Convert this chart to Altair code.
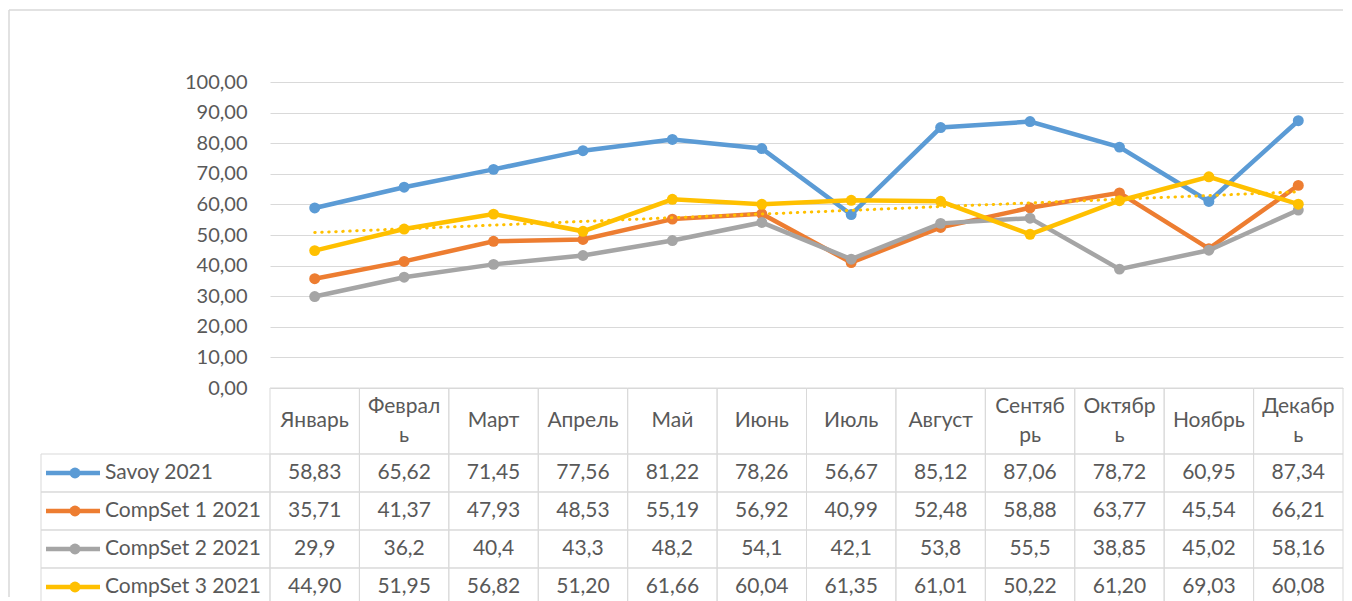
import altair as alt
import pandas as pd

months = ["Январь", "Февраль", "Март", "Апрель", "Май", "Июнь",
          "Июль", "Август", "Сентябрь", "Октябрь", "Ноябрь", "Декабрь"]
header_labels = ["Январь", "Феврал\nь", "Март", "Апрель", "Май", "Июнь",
                 "Июль", "Август", "Сентяб\nрь", "Октябр\nь", "Ноябрь", "Декабр\nь"]
series = ["Savoy 2021", "CompSet 1 2021", "CompSet 2 2021", "CompSet 3 2021"]
colors = ["#5B9BD5", "#ED7D31", "#A5A5A5", "#FFC000"]

savoy = [58.83, 65.62, 71.45, 77.56, 81.22, 78.26, 56.67, 85.12, 87.06, 78.72, 60.95, 87.34]
compset1 = [35.71, 41.37, 47.93, 48.53, 55.19, 56.92, 40.99, 52.48, 58.88, 63.77, 45.54, 66.21]
compset2 = [29.9, 36.2, 40.4, 43.3, 48.2, 54.1, 42.1, 53.8, 55.5, 38.85, 45.02, 58.16]
compset3 = [44.90, 51.95, 56.82, 51.20, 61.66, 60.04, 61.35, 61.01, 50.22, 61.20, 69.03, 60.08]
values = [savoy, compset1, compset2, compset3]
formats = [".2f", ".2f", "g", ".2f"]

FONT = "Lato"
TXT = "#595959"
GRID = "#D9D9D9"
FS = 20
FS_T = 21
W_PLOT = 1073
W_LAB = 229

rows = []
for s, vals, fmt in zip(series, values, formats):
    for i, (m, v) in enumerate(zip(months, vals)):
        rows.append({"series": s, "month": m, "idx": i + 1, "value": v,
                     "label": format(v, fmt).replace(".", ",")})
df = pd.DataFrame(rows)

X = alt.X("idx:Q", scale=alt.Scale(domain=[0.5, 12.5], nice=False, zero=False), axis=None)
Y = alt.Y("value:Q", scale=alt.Scale(domain=[0, 100], nice=False),
          axis=alt.Axis(values=list(range(0, 101, 10)), title=None, domain=False, ticks=False,
                        tickSize=0, labelPadding=23, labelFontSize=FS, labelFont=FONT,
                        labelColor=TXT, gridColor=GRID, gridWidth=1,
                        labelExpr="replace(format(datum.value, '.2f'), '.', ',')"))

layers = []
for s, c in zip(series, colors):
    d = df[df["series"] == s]
    layers.append(alt.Chart(d).mark_line(color=c, strokeWidth=4.5).encode(x=X, y=Y))
    layers.append(alt.Chart(d).mark_circle(color=c, size=120, opacity=1).encode(x=X, y=Y))
trend = alt.Chart(df[df["series"] == series[3]]).transform_regression("idx", "value").mark_line(
    color="#FFC000", strokeWidth=3, strokeDash=[0.5, 6.5], strokeCap="round").encode(x=X, y=Y)
layers.append(trend)
line_chart = alt.layer(*layers).properties(width=W_PLOT, height=306)

blank_df = pd.DataFrame({"a": [0]})
# chart-area frame (decoration only)
frame = alt.layer(
    alt.Chart(blank_df).mark_rule(color=GRID, strokeWidth=1.5).encode(
        x=alt.value(-32), y=alt.value(-72), y2=alt.value(515)),
    alt.Chart(blank_df).mark_rule(color=GRID, strokeWidth=1.5).encode(
        x=alt.value(-32), x2=alt.value(W_LAB + W_PLOT), y=alt.value(-72)),
).properties(width=W_LAB, height=306)
blank2 = alt.Chart(blank_df).mark_point(opacity=0).encode(x=alt.value(0), y=alt.value(0)).properties(width=W_LAB, height=66)

hdf = pd.DataFrame({"month": months, "label": header_labels})
hdf["lines"] = hdf["label"].str.count("\n") + 1
XB = alt.X("month:N", sort=months, scale=alt.Scale(paddingInner=0, paddingOuter=0), axis=None)
header = alt.layer(
    alt.Chart(hdf).mark_rect(fill="#ffffff", fillOpacity=0, stroke=GRID, strokeWidth=1).encode(x=XB),
    alt.Chart(hdf).transform_filter("datum.lines == 1").mark_text(
        fontSize=FS_T, font=FONT, color=TXT, baseline="middle").encode(x=XB, text="label:N"),
    alt.Chart(hdf).transform_filter("datum.lines == 2").mark_text(
        lineBreak="\n", lineHeight=29, dy=-14, fontSize=FS_T, font=FONT, color=TXT,
        baseline="middle").encode(x=XB, text="label:N"),
).properties(width=W_PLOT, height=66)

YS = alt.Y("series:N", sort=series, scale=alt.Scale(paddingInner=0, paddingOuter=0), axis=None)
table = alt.layer(
    alt.Chart(df).mark_rect(fill="#ffffff", fillOpacity=0, stroke=GRID, strokeWidth=1).encode(x=XB, y=YS),
    alt.Chart(df).mark_text(fontSize=FS_T, font=FONT, color=TXT, baseline="middle").encode(x=XB, y=YS, text="label:N"),
).properties(width=W_PLOT, height=152)

ldf = pd.DataFrame({"series": series})
CS = alt.Color("series:N", scale=alt.Scale(domain=series, range=colors), legend=None)
labcol = alt.layer(
    alt.Chart(ldf).mark_rect(fill="#ffffff", fillOpacity=0, stroke=GRID, strokeWidth=1).encode(y=YS),
    alt.Chart(ldf).mark_rule(strokeWidth=4.5).encode(x=alt.value(5), x2=alt.value(59), y=YS, color=CS),
    alt.Chart(ldf).mark_circle(size=120, opacity=1).encode(x=alt.value(34), y=YS, color=CS),
    alt.Chart(ldf).mark_text(align="left", baseline="middle", fontSize=FS_T, font=FONT, color=TXT).encode(
        x=alt.value(64), y=YS, text="series:N"),
).properties(width=W_LAB, height=152)

chart = alt.concat(frame, line_chart, blank2, header, labcol, table,
                   columns=2, spacing=0, bounds="flush").properties(
    padding={"left": 0, "top": 1, "right": 0, "bottom": 0},
    background="white",
).configure_view(strokeWidth=0, strokeOpacity=0)

chart.save("out.html", embed_options={"renderer": "svg", "actions": False})
